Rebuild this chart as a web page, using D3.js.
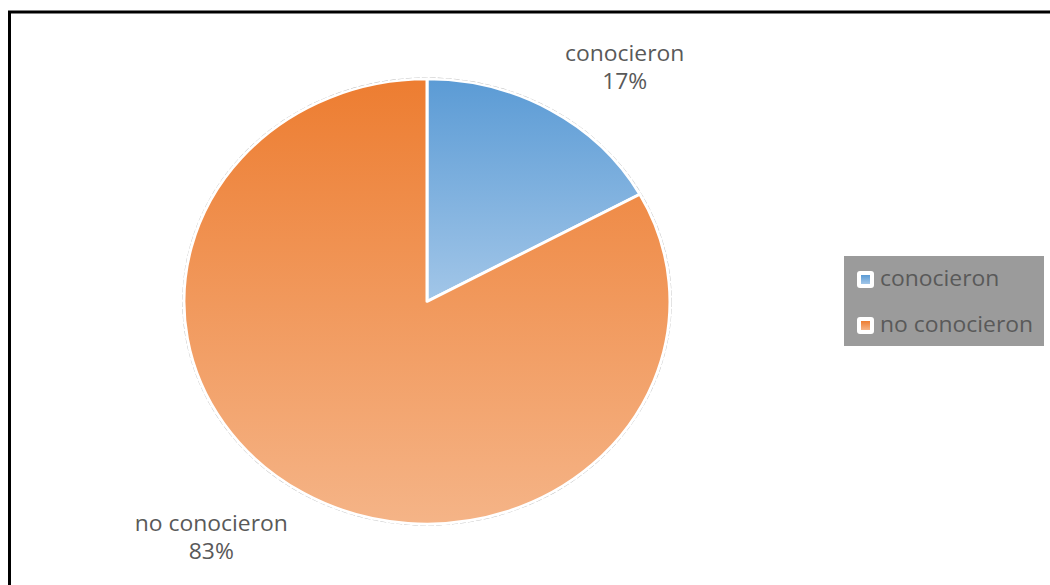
<!DOCTYPE html>
<html>
<head>
<meta charset="utf-8">
<script src="https://cdn.jsdelivr.net/npm/d3@7"></script>
<style>
  html, body { margin: 0; padding: 0; background: #fff; }
  svg { display: block; }
  text { font-family: "Open Sans", "Noto Sans", sans-serif; fill: #595959; }
</style>
</head>
<body>
<svg id="chart"></svg>
<script>
// data
const categories = ["conocieron", "no conocieron"];
const values = [17, 83];
const percentLabels = ["17%", "83%"];
const topColors = ["#5b9bd5", "#ed7d31"];
const bottomColors = ["#a2c6e8", "#f5b487"];

const width = 1050, height = 585;
const cx = 427, cy = 301.5;
const rx = 243, ry = 222.5;   // the chart was stretched a bit horizontally
const stretch = 1.09;

const svg = d3.select("#chart")
  .attr("width", width)
  .attr("height", height);

// widen text the same way the picture was widened
function widen(sel) {
  sel.each(function () {
    const w = this.getComputedTextLength();
    d3.select(this)
      .attr("textLength", w * stretch)
      .attr("lengthAdjust", "spacingAndGlyphs");
  });
}

// frame, open on the right and bottom
svg.append("path")
  .attr("d", `M9.5,${height + 5} L9.5,12 L${width + 5},12`)
  .attr("fill", "none")
  .attr("stroke", "#000")
  .attr("stroke-width", 3);

const defs = svg.append("defs");
categories.forEach((c, i) => {
  const g = defs.append("linearGradient")
    .attr("id", "grad" + i)
    .attr("x1", 0).attr("y1", 0).attr("x2", 0).attr("y2", 1);
  g.append("stop").attr("offset", "0%").attr("stop-color", topColors[i]);
  g.append("stop").attr("offset", "100%").attr("stop-color", bottomColors[i]);
});

const pie = d3.pie().sort(null).value(d => d);
const arcs = pie(values);
const arc = d3.arc().innerRadius(0).outerRadius(1);

const container = svg.append("g")
  .attr("transform", `translate(${cx},${cy}) scale(${rx},${ry})`);

// faint outline round the pie
container.append("ellipse")
  .attr("rx", 1.004).attr("ry", 1.004)
  .attr("fill", "none")
  .attr("stroke", "#bdbdbd")
  .attr("stroke-width", 1.6 / rx)
  .attr("stroke-dasharray", `${6 / rx},${2 / rx}`);

container.selectAll("path.slice")
  .data(arcs)
  .join("path")
  .attr("class", "slice")
  .attr("d", arc)
  .attr("fill", (d, i) => `url(#grad${i})`)
  .attr("stroke", "#fff")
  .attr("stroke-width", 3 / rx)
  .attr("stroke-linejoin", "round");

// data labels, placed off the slice's outer mid point
const labelOffsets = [[74, -42], [-92, 45]];
arcs.forEach((d, i) => {
  const a = (d.startAngle + d.endAngle) / 2;
  const px = cx + rx * Math.sin(a) + labelOffsets[i][0];
  const py = cy - ry * Math.cos(a) + labelOffsets[i][1];
  const t = svg.append("text")
    .attr("text-anchor", "middle")
    .style("font-size", "21px");
  t.append("tspan").attr("x", px).attr("y", py - 14 + 7).text(categories[i]);
  t.append("tspan").attr("x", px).attr("y", py + 14 + 7).text(percentLabels[i]);
  widen(t.selectAll("tspan"));
});

// legend
const legend = svg.append("g").attr("transform", "translate(844,256)");
legend.append("rect")
  .attr("width", 200).attr("height", 90)
  .attr("fill", "#9b9b9b");

const item = legend.selectAll("g.item")
  .data(categories)
  .join("g")
  .attr("class", "item")
  .attr("transform", (d, i) => `translate(13,${15 + i * 46})`);

item.append("rect")
  .attr("width", 17).attr("height", 17)
  .attr("rx", 3)
  .attr("fill", "#fff");
item.append("rect")
  .attr("x", 4).attr("y", 4)
  .attr("width", 9).attr("height", 9)
  .attr("fill", (d, i) => `url(#grad${i})`);
item.append("text")
  .attr("x", 23).attr("y", 15)
  .style("font-size", "21px")
  .text(d => d)
  .call(widen);
</script>
</body>
</html>
